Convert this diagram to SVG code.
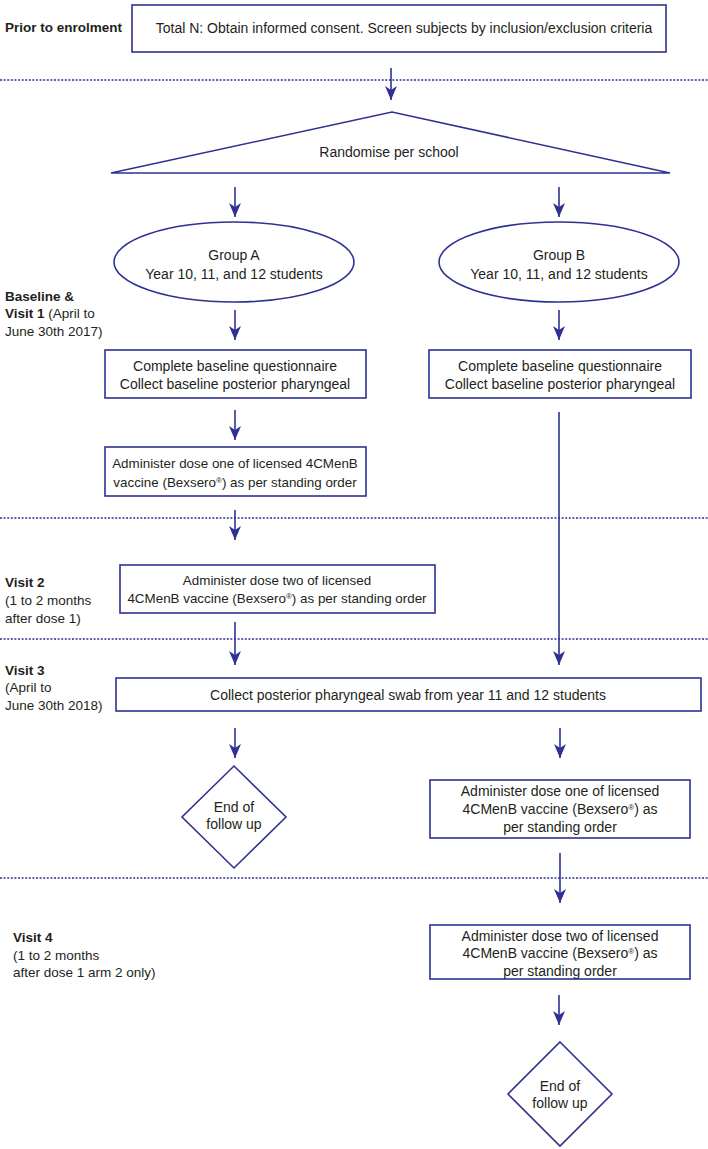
<svg xmlns="http://www.w3.org/2000/svg" width="708" height="1149" viewBox="0 0 708 1149">
<defs>
<style>
.n{fill:#fff;stroke:#2e3192;stroke-width:1.6}
.t{font-family:"Liberation Sans",Arial,sans-serif;font-size:14px;fill:#231f20;text-anchor:middle}
.s{font-size:13.4px}
.l{font-family:"Liberation Sans",Arial,sans-serif;font-size:13.5px;fill:#231f20}
.b{font-weight:bold}
.c{stroke:#2e3192;stroke-width:1.6;fill:none}
.d{stroke:#2e3192;stroke-width:1.5;stroke-dasharray:2 1.6;fill:none}
.r{font-size:8px}
</style>
<marker id="a" markerUnits="userSpaceOnUse" markerWidth="14" markerHeight="12" viewBox="0 0 14 12" refX="14" refY="6" orient="auto">
<path d="M0,0 L14,6 L0,12 L4,6 Z" fill="#2e3192"/>
</marker>
</defs>
<rect width="708" height="1149" fill="#fff"/>

<g id="labels">
<text class="l b" x="5" y="32">Prior to enrolment</text>
<text class="l b" x="5" y="301">Baseline &amp;</text>
<text class="l" x="5" y="318"><tspan class="b">Visit 1</tspan> (April to</text>
<text class="l" x="5" y="336">June 30th 2017)</text>
<text class="l b" x="5" y="587">Visit 2</text>
<text class="l" x="5" y="605">(1 to 2 months</text>
<text class="l" x="5" y="623">after dose 1)</text>
<text class="l b" x="5" y="675">Visit 3</text>
<text class="l" x="5" y="692">(April to</text>
<text class="l" x="5" y="710">June 30th 2018)</text>
<text class="l b" x="13" y="942">Visit 4</text>
<text class="l" x="13" y="960">(1 to 2  months</text>
<text class="l" x="13" y="977">after dose 1 arm 2 only)</text>
</g>

<g id="phases">
<line class="d" x1="0" y1="80" x2="708" y2="80"/>
<line class="d" x1="0" y1="518" x2="708" y2="518"/>
<line class="d" x1="0" y1="639" x2="708" y2="639"/>
<line class="d" x1="0" y1="878" x2="708" y2="878"/>
</g>

<g id="connectors">
<line class="c" x1="391" y1="68" x2="391" y2="100" marker-end="url(#a)"/>
<line class="c" x1="235" y1="187" x2="235" y2="217" marker-end="url(#a)"/>
<line class="c" x1="559" y1="187" x2="559" y2="217" marker-end="url(#a)"/>
<line class="c" x1="235" y1="310" x2="235" y2="340" marker-end="url(#a)"/>
<line class="c" x1="559" y1="310" x2="559" y2="340" marker-end="url(#a)"/>
<line class="c" x1="235" y1="410" x2="235" y2="440" marker-end="url(#a)"/>
<line class="c" x1="559" y1="412" x2="559" y2="665" marker-end="url(#a)"/>
<line class="c" x1="235" y1="510" x2="235" y2="540" marker-end="url(#a)"/>
<line class="c" x1="235" y1="622" x2="235" y2="665" marker-end="url(#a)"/>
<line class="c" x1="235" y1="728" x2="235" y2="758" marker-end="url(#a)"/>
<line class="c" x1="560" y1="728" x2="560" y2="758" marker-end="url(#a)"/>
<line class="c" x1="560" y1="853" x2="560" y2="903" marker-end="url(#a)"/>
<line class="c" x1="559" y1="995" x2="559" y2="1025" marker-end="url(#a)"/>
</g>

<g id="consent">
<rect class="n" x="132" y="5" width="534" height="47"/>
<text class="t" x="404" y="33">Total N: Obtain informed consent. Screen subjects by inclusion/exclusion criteria</text>
</g>

<g id="randomise">
<polygon class="n" points="111,173 392,112 670,173"/>
<text class="t" x="389" y="157">Randomise per school</text>
</g>

<g id="groupA">
<ellipse class="n" cx="234" cy="262" rx="120" ry="40"/>
<text class="t" x="234" y="260">Group A</text>
<text class="t" x="234" y="279">Year 10, 11, and 12 students</text>
</g>

<g id="groupB">
<ellipse class="n" cx="559" cy="262" rx="120" ry="40"/>
<text class="t" x="559" y="260">Group B</text>
<text class="t" x="559" y="279">Year 10, 11, and 12 students</text>
</g>

<g id="baselineA">
<rect class="n" x="105" y="350" width="261" height="48"/>
<text class="t" x="235" y="371">Complete baseline questionnaire</text>
<text class="t" x="235" y="389">Collect baseline posterior pharyngeal</text>
</g>

<g id="baselineB">
<rect class="n" x="429" y="350" width="262" height="48"/>
<text class="t" x="560" y="371">Complete baseline questionnaire</text>
<text class="t" x="560" y="389">Collect baseline posterior pharyngeal</text>
</g>

<g id="doseOneA">
<rect class="n" x="105" y="447" width="261" height="49"/>
<text class="t s" x="235" y="468">Administer dose one of licensed 4CMenB</text>
<text class="t s" x="235" y="487">vaccine (Bexsero<tspan class="r" baseline-shift="super">®</tspan>) as per standing order</text>
</g>

<g id="doseTwoA">
<rect class="n" x="120" y="565" width="315" height="48"/>
<text class="t s" x="277" y="585">Administer dose two of licensed</text>
<text class="t s" x="277" y="603">4CMenB vaccine (Bexsero<tspan class="r" baseline-shift="super">®</tspan>) as per standing order</text>
</g>

<g id="swab">
<rect class="n" x="116" y="678" width="585" height="33"/>
<text class="t" x="408" y="700">Collect posterior pharyngeal swab from year 11 and 12 students</text>
</g>

<g id="endA">
<polygon class="n" points="234,766 286,817 234,868 182,817"/>
<text class="t" x="234" y="812">End of</text>
<text class="t" x="234" y="829">follow up</text>
</g>

<g id="doseOneB">
<rect class="n" x="430" y="780" width="260" height="58"/>
<text class="t" x="560" y="796">Administer dose one of licensed</text>
<text class="t" x="560" y="814">4CMenB vaccine (Bexsero<tspan class="r" baseline-shift="super">®</tspan>) as</text>
<text class="t" x="560" y="832">per standing order</text>
</g>

<g id="doseTwoB">
<rect class="n" x="430" y="925" width="260" height="54"/>
<text class="t" x="560" y="941">Administer dose two of licensed</text>
<text class="t" x="560" y="958">4CMenB vaccine (Bexsero<tspan class="r" baseline-shift="super">®</tspan>) as</text>
<text class="t" x="560" y="976">per standing order</text>
</g>

<g id="endB">
<polygon class="n" points="560,1042 612,1094 560,1146 508,1094"/>
<text class="t" x="560" y="1091">End of</text>
<text class="t" x="560" y="1108">follow up</text>
</g>
</svg>
